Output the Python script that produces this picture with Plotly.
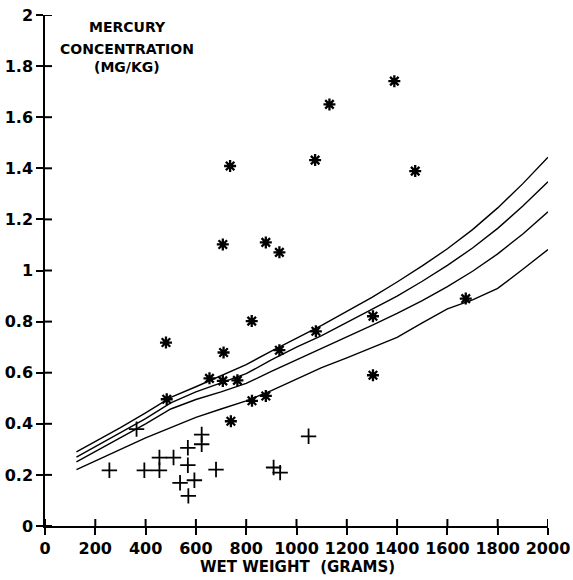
import plotly.graph_objects as go

# Curve vertices (wet weight in grams) and the four fitted curves (mg/kg)
curve_w = [125, 300, 400, 500, 600, 700, 800, 900, 1000, 1100, 1200, 1300,
           1400, 1500, 1600, 1700, 1800, 1900, 2000]
curve_1 = [0.290, 0.385, 0.443, 0.503, 0.545, 0.590, 0.632, 0.684, 0.735, 0.785,
           0.840, 0.895, 0.955, 1.018, 1.085, 1.160, 1.245, 1.340, 1.443]
curve_2 = [0.270, 0.365, 0.420, 0.482, 0.525, 0.560, 0.596, 0.650, 0.700, 0.745,
           0.797, 0.848, 0.900, 0.958, 1.020, 1.088, 1.165, 1.252, 1.347]
curve_3 = [0.251, 0.345, 0.400, 0.458, 0.495, 0.525, 0.558, 0.605, 0.650, 0.695,
           0.738, 0.785, 0.832, 0.882, 0.937, 0.997, 1.065, 1.143, 1.230]
curve_4 = [0.221, 0.300, 0.345, 0.385, 0.425, 0.458, 0.490, 0.530, 0.575, 0.620,
           0.658, 0.697, 0.738, 0.795, 0.850, 0.885, 0.930, 1.005, 1.082]

# Asterisk samples
star_w = [481, 484, 654, 707, 710, 707, 736, 739, 765, 822, 823, 878, 878, 932,
          932, 1074, 1077, 1131, 1304, 1304, 1389, 1472, 1673]
star_hg = [0.718, 0.496, 0.578, 0.568, 0.679, 1.102, 1.409, 0.410, 0.570, 0.802,
           0.490, 0.509, 1.110, 1.071, 0.688, 1.432, 0.762, 1.650, 0.821, 0.590,
           1.741, 1.389, 0.890]

# Plus samples
plus_w = [256, 364, 395, 455, 455, 511, 568, 568, 537, 594, 570, 623, 623, 680,
          909, 935, 1048]
plus_hg = [0.218, 0.379, 0.218, 0.218, 0.268, 0.268, 0.306, 0.238, 0.169, 0.179,
           0.118, 0.358, 0.320, 0.221, 0.229, 0.209, 0.351]

x_ticks = [0, 200, 400, 600, 800, 1000, 1200, 1400, 1600, 1800, 2000]
x_labels = ["0", "200", "400", "600", "800", "1000", "1200", "1400", "1600", "1800", "2000"]
y_ticks = [0, 0.2, 0.4, 0.6, 0.8, 1, 1.2, 1.4, 1.6, 1.8, 2]
y_labels = ["0", "0.2", "0.4", "0.6", "0.8", "1", "1.2", "1.4", "1.6", "1.8", "2"]

FONT = "DejaVu Sans"
W, H = 573, 580
# plot area in page pixels: x 45..548, y 15..526
ML, MT = 45, 15
MR, MB = W - 548, H - 526
PW = W - ML - MR
PH = H - MT - MB

fig = go.Figure()
for c in [curve_1, curve_2, curve_3, curve_4]:
    fig.add_trace(go.Scatter(x=curve_w, y=c, mode="lines",
                             line=dict(color="black", width=1.4),
                             showlegend=False, hoverinfo="skip"))

fig.add_trace(go.Scatter(x=star_w, y=star_hg, mode="markers",
                         marker=dict(symbol="asterisk-open", size=10, color="black",
                                     line=dict(color="black", width=2.3)),
                         showlegend=False))

fig.add_trace(go.Scatter(x=plus_w, y=plus_hg, mode="markers",
                         marker=dict(symbol="cross-thin-open", size=11, color="black",
                                     line=dict(color="black", width=1.8)),
                         showlegend=False))

# tick marks that cross the axis lines, sized in pixels around each tick value
TICK = dict(color="black", width=2)
for yt in y_ticks:
    fig.add_shape(type="line", xref="x", yref="y", xsizemode="pixel", xanchor=0,
                  x0=-7, x1=7, y0=yt, y1=yt, line=TICK, layer="above")
for xt in x_ticks:
    fig.add_shape(type="line", xref="x", yref="y", ysizemode="pixel", yanchor=0,
                  y0=-7, y1=7, x0=xt, x1=xt, line=TICK, layer="above")

axis_common = dict(showgrid=False, zeroline=False, linecolor="black",
                   linewidth=1.5, showline=True, automargin=False)

tfont = dict(family=FONT, size=16, color="black", weight="bold")

fig.update_layout(
    width=W, height=H,
    margin=dict(l=ML, r=MR, t=MT, b=MB, autoexpand=False),
    paper_bgcolor="white", plot_bgcolor="white",
    font=dict(family=FONT, color="black"),
    xaxis=dict(range=[0, 2000], tickvals=x_ticks, ticktext=x_labels,
               ticks="outside", ticklen=7, tickwidth=2, tickcolor="black",
               tickfont=tfont, **axis_common),
    yaxis=dict(range=[0, 2], tickvals=y_ticks, ticktext=y_labels,
               ticks="outside", ticklen=7, tickwidth=2, tickcolor="black",
               tickfont=tfont, **axis_common),
)

title_lines = [("MERCURY", 27.5), ("CONCENTRATION", 48.5), ("(MG/KG)", 67.5)]
for txt, py in title_lines:
    fig.add_annotation(text="<b>%s</b>" % txt,
                       xref="paper", yref="paper",
                       x=(127 - ML) / PW, y=(526 - py) / PH,
                       xanchor="center", yanchor="middle", showarrow=False,
                       font=dict(family=FONT, size=14, color="black"))

fig.add_annotation(text="<b>WET WEIGHT  (GRAMS)</b>",
                   xref="paper", yref="paper", x=(297 - ML) / PW,
                   y=(526 - 567) / PH,
                   xanchor="center", yanchor="middle", showarrow=False,
                   font=dict(family=FONT, size=15, color="black"))

fig.write_html("out.html", config={"displayModeBar": False},
               post_script="document.body.style.margin='0';")
